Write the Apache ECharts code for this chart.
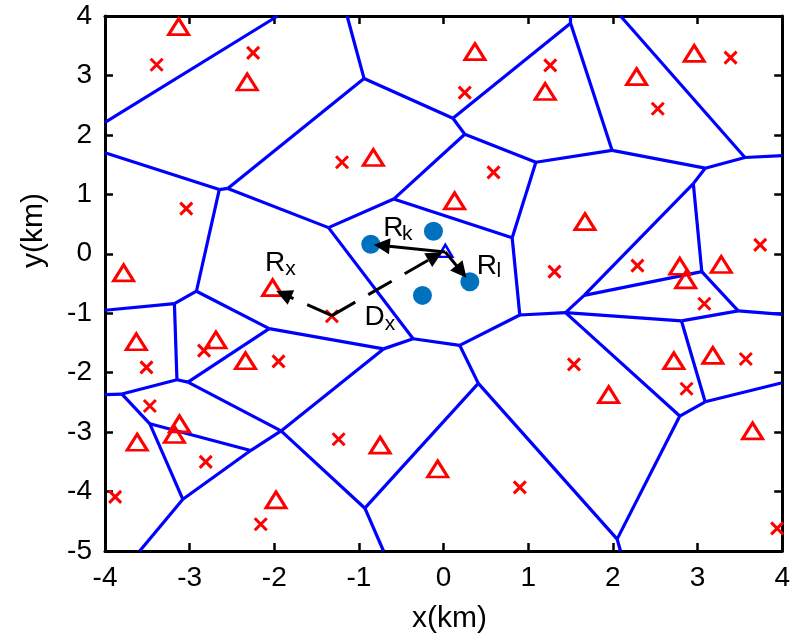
<!DOCTYPE html>
<html><head><meta charset="utf-8">
<script src="https://cdn.jsdelivr.net/npm/echarts@6/dist/echarts.min.js"></script>
<style>html,body{margin:0;padding:0;background:#fff}#c{width:793px;height:639px}</style>
</head><body><div id="c"></div>
<script>
// Axis ticks
const xTicks = [-4,-3,-2,-1,0,1,2,3,4];
const yTicks = [-5,-4,-3,-2,-1,0,1,2,3,4];

// Voronoi cell edges: [x1, y1, x2, y2]
const voronoiEdges = [
  [-4,2.21,-1.96,4],[-1.14,4,-0.94,2.95],[-0.94,2.95,-2.55,1.10],[-4,1.70,-2.65,1.08],
  [-2.65,1.08,-2.55,1.10],[-2.65,1.08,-2.92,-0.63],[-2.55,1.10,-1.36,0.44],[-1.36,0.44,-0.59,0.92],
  [-1.36,0.44,-0.36,-1.43],[-0.94,2.95,0.11,2.28],[0.11,2.28,0.25,2.01],[0.11,2.28,1.50,3.88],
  [1.50,3.88,1.50,4],[1.50,3.88,1.99,1.74],[0.25,2.01,-0.59,0.92],[0.25,2.01,1.09,1.54],
  [1.09,1.54,1.99,1.74],[1.09,1.54,0.81,0.27],[-0.59,0.92,0.81,0.27],[0.81,0.27,0.90,-1.03],
  [2.09,4,3.56,1.62],[3.56,1.62,4,1.65],[1.99,1.74,3.09,1.44],[3.09,1.44,3.56,1.62],
  [3.09,1.44,2.95,1.18],[2.95,1.18,3.05,-0.30],[2.95,1.18,1.66,-0.70],[1.66,-0.70,3.05,-0.30],
  [1.66,-0.70,1.44,-0.99],[3.05,-0.30,3.48,-0.96],[3.48,-0.96,4,-1.02],[3.48,-0.96,2.81,-1.13],
  [1.44,-0.99,2.81,-1.13],[2.81,-1.13,3.09,-2.49],[3.09,-2.49,4,-2.17],[3.09,-2.49,2.79,-2.73],
  [1.44,-0.99,2.79,-2.73],[2.79,-2.73,2.05,-4.80],[2.05,-4.80,2.09,-5],[0.90,-1.03,1.44,-0.99],
  [0.90,-1.03,0.19,-1.54],[-0.36,-1.43,0.19,-1.54],[0.19,-1.54,0.41,-2.18],[0.41,-2.18,2.05,-4.80],
  [0.41,-2.18,-0.93,-4.28],[-0.93,-4.28,-0.71,-5],[-0.36,-1.43,-0.71,-1.60],[-2.06,-1.26,-0.71,-1.60],
  [-0.71,-1.60,-1.92,-2.98],[-1.92,-2.98,-0.93,-4.28],[-2.92,-0.63,-2.06,-1.26],[-2.92,-0.63,-3.18,-0.84],
  [-3.18,-0.84,-4,-0.95],[-3.18,-0.84,-3.15,-2.12],[-3.15,-2.12,-3.02,-2.16],[-3.02,-2.16,-2.06,-1.26],
  [-3.02,-2.16,-1.92,-2.98],[-3.15,-2.12,-3.80,-2.36],[-3.80,-2.36,-4,-2.37],[-3.80,-2.36,-3.47,-2.86],
  [-3.47,-2.86,-2.28,-3.31],[-1.92,-2.98,-2.28,-3.31],[-2.28,-3.31,-3.08,-4.13],[-3.47,-2.86,-3.08,-4.13],
  [-3.08,-4.13,-3.59,-5]
];

// Red triangles
const triX = [-3.13,-2.32,-0.83,0.37,0.13,2.28,2.96,1.20,1.67,-3.78,-2.02,-3.63,-2.69,-2.34,-3.62,-3.12,-3.18,-0.75,-1.98,-0.07,1.95,2.72,3.18,3.65,2.79,2.86,3.28];
const triY = [3.82,2.89,1.62,3.40,0.89,2.98,3.37,2.73,0.54,-0.32,-0.57,-1.48,-1.45,-1.80,-3.17,-2.86,-3.04,-3.22,-4.14,-3.62,-2.37,-1.80,-1.71,-2.98,-0.21,-0.44,-0.18];

// Red crosses
const crossX = [-3.39,-2.25,-1.20,-3.04,0.25,1.26,0.59,1.31,3.39,2.53,3.74,2.29,3.08,3.57,2.87,3.94,1.54,0.90,-1.32,-2.83,-3.51,-1.95,-3.47,-2.81,-3.88,-2.16,-1.24];
const crossY = [3.18,3.38,1.54,0.76,2.71,3.17,1.37,-0.30,3.30,2.44,0.15,-0.20,-0.84,-1.77,-2.27,-4.62,-1.86,-3.93,-1.05,-1.63,-1.91,-1.81,-2.56,-3.50,-4.09,-4.55,-3.12];

// Blue filled circles
const dotX = [-0.86,-0.12,0.31,-0.25];
const dotY = [0.16,0.38,-0.47,-0.70];

// Blue hollow triangle (origin)
const originX = [0.02];
const originY = [0.05];

// Solid arrows [x1,y1,x2,y2]
const solidArrows = [[0.02,0.03,-0.73,0.14],[0.02,0.03,0.21,-0.30]];
// Dashed arrows [x1,y1,x2,y2]
const dashedArrows = [[-1.32,-1.04,-0.10,-0.04],[-1.32,-1.04,-1.89,-0.68]];

// Text labels
const labelMain = ['R','R','R','D'];
const labelMainX = [-0.593,-1.991,0.511,-0.816];
const labelMainY = [0.427,-0.157,-0.212,-1.075];
const labelSub = ['k','x','l','x'];
const labelSubX = [-0.429,-1.809,0.652,-0.632];
const labelSubY = [0.336,-0.252,-0.296,-1.184];

const FONT = 'Liberation Sans, Arial, sans-serif';
const zip = (a,b) => a.map((v,i)=>[v,b[i]]);
const seg = s => ({coords: [[s[0],s[1]],[s[2],s[3]]]});

const chart = echarts.init(document.getElementById('c'), null, {renderer:'canvas'});
const axisCommon = {
  axisLine: {show:true, onZero:false, lineStyle:{color:'#000', width:3}},
  axisTick: {show:true, inside:true, length:8, lineStyle:{color:'#000', width:2.5}},
  splitLine: {show:false}
};
chart.setOption({
  animation: false,
  backgroundColor: '#fff',
  grid: {left:105, right:7, top:16, bottom:84, containLabel:false},
  xAxis: [
    Object.assign({type:'value', min:-4, max:4, interval:1, position:'bottom',
      name:'x(km)', nameLocation:'middle', nameGap:53,
      nameTextStyle:{fontFamily:FONT, fontSize:30, color:'#000', padding:[0,0,0,12]},
      axisLabel:{fontFamily:FONT, fontSize:28, color:'#000', margin:13}}, axisCommon),
    Object.assign({type:'value', min:-4, max:4, interval:1, position:'top',
      axisLabel:{show:false}}, axisCommon)
  ],
  yAxis: [
    Object.assign({type:'value', min:-5, max:4, interval:1, position:'left',
      name:'y(km)', nameLocation:'middle', nameGap:56,
      nameTextStyle:{fontFamily:FONT, fontSize:30, color:'#000', padding:[0,0,0,106]},
      axisLabel:{fontFamily:FONT, fontSize:28, color:'#000', margin:13}}, axisCommon),
    Object.assign({type:'value', min:-5, max:4, interval:1, position:'right',
      axisLabel:{show:false}}, axisCommon)
  ],
  series: [
    {type:'lines', coordinateSystem:'cartesian2d', z:1, silent:true,
     symbol:'none', lineStyle:{color:'#0000ff', width:3.2, opacity:1},
     data: voronoiEdges.map(seg)},
    {type:'scatter', z:2, silent:true, symbol:'triangle', symbolSize:[20,16],
     itemStyle:{color:'rgba(0,0,0,0)', borderColor:'#ff0000', borderWidth:3, opacity:1},
     data: zip(triX,triY)},
    {type:'scatter', z:2, silent:true, symbol:'path://M0,0L10,10M10,0L0,10', symbolSize:12,
     itemStyle:{color:'rgba(0,0,0,0)', borderColor:'#ff0000', borderWidth:3, opacity:1},
     data: zip(crossX,crossY)},
    {type:'scatter', z:3, silent:true, symbol:'circle', symbolSize:19,
     itemStyle:{color:'#0072BD', opacity:1}, data: zip(dotX,dotY)},
    {type:'scatter', z:3, silent:true, symbol:'triangle', symbolSize:[14,12],
     itemStyle:{color:'rgba(0,0,0,0)', borderColor:'#0000ff', borderWidth:2.5, opacity:1},
     data: zip(originX,originY)},
    {type:'lines', coordinateSystem:'cartesian2d', z:4, silent:true,
     symbol:['none','triangle'], symbolSize:[0,16],
     lineStyle:{color:'#000', width:3, opacity:1},
     data: solidArrows.map(seg)},
    {type:'lines', coordinateSystem:'cartesian2d', z:4, silent:true,
     symbol:['none','triangle'], symbolSize:[0,16],
     lineStyle:{color:'#000', width:3, opacity:1, type:[27,15]},
     data: dashedArrows.map(seg)},
    {type:'scatter', z:5, silent:true, symbolSize:1, itemStyle:{color:'rgba(0,0,0,0)', opacity:1},
     label:{show:true, position:'inside', formatter:p=>p.name, fontFamily:FONT, fontSize:28, color:'#000', opacity:1},
     data: labelMain.map((t,i)=>({name:t, value:[labelMainX[i], labelMainY[i]]}))},
    {type:'scatter', z:5, silent:true, symbolSize:1, itemStyle:{color:'rgba(0,0,0,0)', opacity:1},
     label:{show:true, position:'inside', formatter:p=>p.name, fontFamily:FONT, fontSize:21, color:'#000', opacity:1},
     data: labelSub.map((t,i)=>({name:t, value:[labelSubX[i], labelSubY[i]]}))}
  ]
});
</script>
</body></html>
